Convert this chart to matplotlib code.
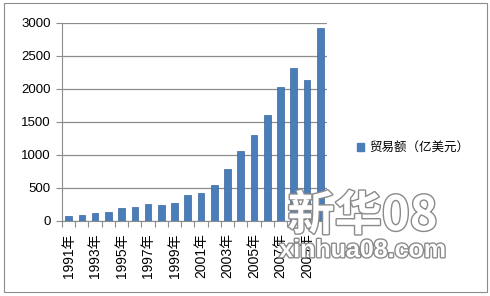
import matplotlib.pyplot as plt
import matplotlib.patheffects as pe
from matplotlib.patches import Rectangle, Patch

plt.rcParams['font.family'] = ['Liberation Sans', 'Noto Sans CJK SC', 'DejaVu Sans']

years = list(range(1991, 2011))
trade = [80, 84, 111, 132, 199, 204, 252, 236, 272, 395,
         416, 548, 782, 1059, 1304, 1608, 2025, 2311, 2130, 2928]
series_name = '贸易额（亿美元）'
tick_labels = [f'{y}年' for y in years]

fig = plt.figure(figsize=(4.9, 2.96), dpi=100)
ax = fig.add_axes([0.1265, 0.254, 0.5405, 0.669])

x = list(range(len(years)))
ax.bar(x, trade, width=0.5, color='#4a7ebb', edgecolor='#3a659a', linewidth=0.5,
       zorder=3, label=series_name)

ax.set_xlim(-0.5, len(years) - 0.5)
ax.set_ylim(0, 3000)
ax.set_yticks(range(0, 3001, 500))
ax.yaxis.grid(True, color='#8c8c8c', linewidth=0.9, zorder=0)

ax.set_xticks([i - 0.5 for i in range(len(years) + 1)])
ax.set_xticklabels([])
ax.set_xticks(x[::2], minor=True)
ax.set_xticklabels(tick_labels[::2], minor=True, rotation=90, fontsize=10)
ax.tick_params(axis='x', which='major', length=4, color='#8c8c8c')
ax.tick_params(axis='x', which='minor', length=0, pad=9)
ax.tick_params(axis='y', length=4, color='#8c8c8c', labelsize=9.5, pad=4)

for s in ['top', 'right']:
    ax.spines[s].set_visible(False)
for s in ['left', 'bottom']:
    ax.spines[s].set_color('#8c8c8c')

fig.legend(handles=[Patch(color='#4a7ebb')], labels=[series_name],
           loc='center left', bbox_to_anchor=(0.705, 0.5), frameon=False,
           fontsize=9, handlelength=0.6, handleheight=0.6, handletextpad=0.4)

# outer frame
fig.add_artist(Rectangle((0.008, 0.012), 0.986, 0.977, transform=fig.transFigure,
                         fill=False, edgecolor='#8c8c8c', linewidth=0.8))

# watermark
fig.text(0.74, 0.27, '新华08', fontsize=34, color='white', fontweight='bold',
         family=['Noto Sans CJK SC'], ha='center', va='center',
         path_effects=[pe.withStroke(linewidth=2, foreground='#8a8a8a')])
fig.text(0.74, 0.155, 'xinhua08.com', fontsize=18, color='white', fontweight='bold',
         ha='center', va='center',
         path_effects=[pe.withStroke(linewidth=2, foreground='#8a8a8a')])

fig.savefig('out.png', dpi=100)
